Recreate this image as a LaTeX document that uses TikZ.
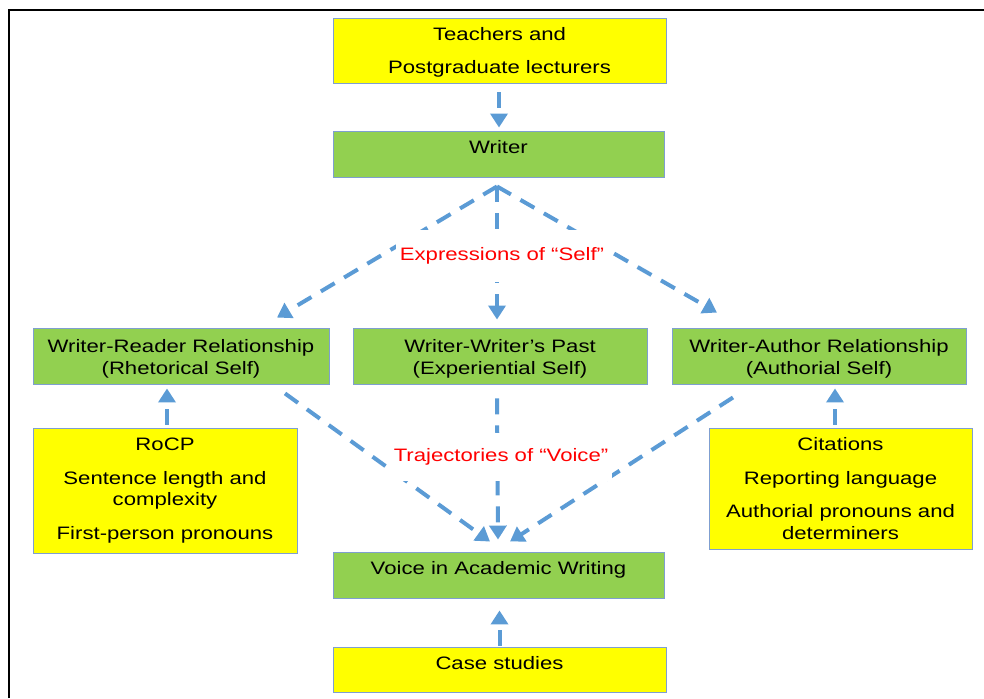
\documentclass[tikz,border=0pt]{standalone}
\usepackage{fontspec}
\setmainfont{Liberation Sans}[FakeStretch=1.23]
\usetikzlibrary{arrows.meta,calc}
\definecolor{boxgreen}{HTML}{92D050}
\definecolor{boxyellow}{HTML}{FFFF00}
\definecolor{boxedge}{HTML}{7F9FD0}
\definecolor{flowblue}{HTML}{5B9BD5}
\definecolor{notered}{HTML}{FF0000}
\begin{document}
\begin{tikzpicture}[x=1pt,y=-1pt,
  every node/.style={font=\fontsize{18}{21.6}\selectfont, text=black},
  box/.style={draw=boxedge, line width=0.9pt, inner sep=0pt, align=center},
  gbox/.style={box, fill=boxgreen},
  ybox/.style={box, fill=boxyellow},
  txt/.style={align=center, inner sep=0pt},
  conn/.style={draw=flowblue, line width=4pt, dash pattern=on 16pt off 11pt,
    -{Triangle[length=14pt,width=17pt]}},
  note/.style={text=notered, fill=white, inner xsep=4pt, inner ysep=0pt}
]
\useasboundingbox (0,0) rectangle (984,698);
% outer frame
\draw[line width=2pt] (9,698) -- (9,10) -- (984,10);

% boxes
\node[ybox, minimum width=333, minimum height=65,
  label={[txt, yshift=-2pt, font=\fontsize{18}{33}\selectfont]center:{Teachers and\\Postgraduate lecturers}}]
  (teach) at (499.5,50.5) {};
\node[gbox, minimum width=331, minimum height=46,
  label={[txt, yshift=7pt]center:Writer}] (writer) at (498.5,154) {};
\node[gbox, minimum width=296, minimum height=56,
  label={[txt, yshift=-3pt]center:{Writer-Reader Relationship\\(Rhetorical Self)}}]
  (wr) at (181,356) {};
\node[gbox, minimum width=294, minimum height=56,
  label={[txt, yshift=-3pt]center:{Writer-Writer's Past\\(Experiential Self)}}]
  (wp) at (500,356) {};
\node[gbox, minimum width=294, minimum height=56,
  label={[txt, yshift=-3pt]center:{Writer-Author Relationship\\(Authorial Self)}}]
  (wa) at (819,356) {};
\node[ybox, minimum width=264, minimum height=125] (rocp) at (165,490.5)
  {RoCP\\[12pt]Sentence length and\\complexity\\[12pt]First-person pronouns};
\node[ybox, minimum width=263, minimum height=121] (cit) at (840.5,488.5)
  {Citations\\[12pt]Reporting language\\[12pt]Authorial pronouns and\\determiners};
\node[gbox, minimum width=331, minimum height=46,
  label={[txt, yshift=5pt]center:Voice in Academic Writing}] (voice) at (498.5,575) {};
\node[ybox, minimum width=333, minimum height=45,
  label={[txt, yshift=6pt]center:Case studies}] (cases) at (499.5,669.5) {};

% connectors
\draw[conn] ($(teach.south)+(-0.5,9)$) -- ($(writer.north)+(0.5,-3)$);
\draw[conn] ($(writer.south)+(-1.5,9)$) -- ($(wr.north)+(96,-10)$);
\draw[conn] ($(writer.south)+(-1.5,9)$) -- ($(wp.north)+(-3,-8)$);
\draw[conn] ($(writer.south)+(-1.5,9)$) -- ($(wa.north)+(-102,-15)$);
\draw[conn] ($(wr.south)+(104,9)$) -- ($(voice.north)+(-8.5,-10)$);
\draw[conn] ($(wp.south)+(-3,14)$) -- ($(voice.north)+(-0.5,-12)$);
\draw[conn] ($(wa.south)+(-86,13)$) -- ($(voice.north)+(11.5,-10)$);
\draw[conn] ($(rocp.north)+(2,-3)$) -- ($(wr.south)+(-14,4)$);
\draw[conn] ($(cit.north)+(-5.5,-3)$) -- ($(wa.south)+(16,4)$);
\draw[conn] ($(cases.north)+(0,-1)$) -- ($(voice.south)+(1,12)$);

% labels over the dashed flows
\node[note, minimum height=52] (lself) at (502,256) {Expressions of “Self”};
\node[note, minimum height=48] (lvoice) at (501,457) {Trajectories of “Voice”};
\end{tikzpicture}
\end{document}
